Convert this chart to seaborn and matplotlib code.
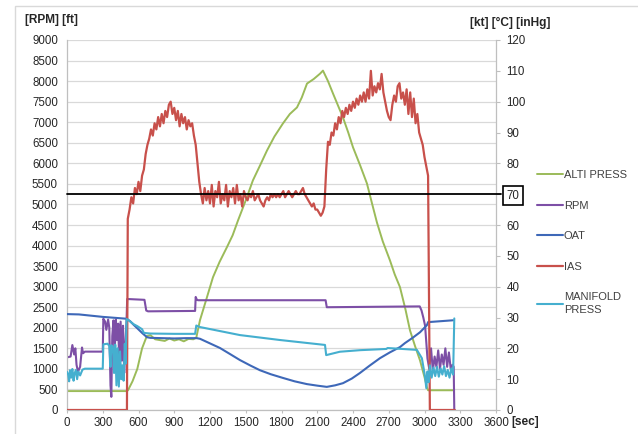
import matplotlib
matplotlib.use("Agg")
import matplotlib.pyplot as plt
import pandas as pd
import seaborn as sns
from matplotlib.patches import Rectangle

# ---------------- flight log data ----------------
# ALTI PRESS [ft] (left axis)
alti_t = [0, 500, 512, 550, 590, 630, 670, 700, 740, 780, 820, 860, 900, 940, 980,
          1020, 1060, 1085, 1116, 1170, 1225, 1280, 1342, 1390, 1435, 1500, 1560,
          1620, 1678, 1740, 1812, 1870, 1930, 1970, 2014, 2070, 2123, 2148, 2190,
          2232, 2275, 2316, 2360, 2400, 2460, 2517, 2560, 2601, 2650, 2710, 2750,
          2794, 2840, 2878, 2920, 2962, 3000, 3020, 3030, 3240]
alti_v = [460, 460, 480, 700, 1000, 1500, 1800, 1820, 1720, 1700, 1680, 1740, 1690,
          1720, 1670, 1730, 1720, 1760, 2185, 2700, 3230, 3600, 3960, 4250, 4610,
          5100, 5585, 5950, 6310, 6650, 6970, 7200, 7360, 7600, 7940, 8050, 8180,
          8255, 8000, 7700, 7400, 7115, 6750, 6390, 5950, 5510, 5020, 4560, 4100,
          3640, 3300, 2990, 2450, 1940, 1560, 1210, 800, 560, 480, 480]

# RPM (left axis)
rpm_t = [0, 30, 45, 60, 70, 80, 92, 110, 126, 135, 150, 300, 305, 320, 330, 345,
         355, 365, 372, 380, 390, 400, 410, 420, 430, 440, 450, 460, 470, 480, 490,
         500, 505, 650, 665, 680, 1075, 1080, 1090, 1100, 2170, 2180, 2960, 2975,
         2990, 3005, 3015, 3025, 3040, 3055, 3070, 3085, 3100, 3115, 3130, 3145,
         3160, 3175, 3190, 3205, 3220, 3235, 3245, 3250]
rpm_v = [1280, 1300, 1580, 1350, 1500, 1100, 930, 1050, 1520, 1380, 1420, 1420,
         2220, 2150, 1950, 2200, 2000, 600, 320, 1800, 2180, 1400, 2200, 1700, 2100,
         900, 2150, 1200, 2050, 900, 1600, 2200, 2700, 2680, 2420, 2400, 2410, 2750,
         2680, 2670, 2670, 2500, 2520, 2420, 2250, 2050, 1650, 1250, 1000, 1500, 950,
         1300, 1050, 1450, 1000, 1350, 1100, 1500, 1050, 1400, 1000, 1100, 1050, 0]

# OAT [degC] (right axis)
oat_t = [0, 100, 200, 300, 400, 500, 530, 560, 590, 630, 671, 700, 800, 900, 1000,
         1090, 1116, 1200, 1284, 1370, 1451, 1540, 1619, 1710, 1812, 1910, 2013,
         2100, 2180, 2250, 2316, 2390, 2458, 2540, 2626, 2710, 2794, 2836, 2900,
         2962, 3020, 3030, 3240]
oat_v = [31.1, 31.0, 30.6, 30.2, 29.9, 29.6, 28.8, 27.6, 26.5, 25.0, 23.6, 23.4,
         23.3, 23.2, 23.3, 23.3, 23.1, 21.6, 20.1, 18.1, 16.2, 14.4, 12.9, 11.6,
         10.4, 9.3, 8.4, 7.9, 7.5, 8.0, 8.7, 10.2, 12.0, 14.4, 16.8, 18.7, 20.4,
         21.7, 23.4, 25.2, 27.5, 28.5, 29.1]

# IAS [kt] (right axis): ground segments plus 15 s samples from 510 s to 3030 s
ias_ground_start_t = [0, 503]
ias_ground_end_t = [3045, 3255]
ias_sample_t = list(range(510, 3031, 15))
ias_sample_v = [
    62, 65, 69, 67, 72, 70, 74, 71, 76, 78, 83, 86,
    88, 91, 89, 93, 91, 95, 92, 96, 93, 97, 95, 99,
    100, 96, 98, 94, 97, 92, 96, 93, 95, 91, 94, 92,
    93, 89, 86, 80, 74, 70, 67, 72, 68, 71, 67, 73,
    66, 71, 69, 74, 67, 70, 68, 73, 66, 71, 69, 72,
    67, 73, 68, 70, 66, 71, 69, 68, 70, 69, 71, 68,
    69, 70, 68, 67, 66, 68, 69, 68, 70, 69, 70, 69,
    70, 69, 70, 71, 69, 70, 71, 70, 69, 70, 71, 70,
    70, 71, 72, 70, 69, 68, 67, 66, 67, 65, 65, 64,
    63, 64, 66, 78, 87, 86, 90, 89, 93, 91, 95, 93,
    97, 95, 98, 96, 99, 97, 100, 98, 101, 99, 102, 100,
    103, 100, 104, 101, 110, 102, 105, 103, 106, 104, 109, 103,
    100, 97, 95, 94, 99, 102, 100, 105, 106, 101, 103, 99,
    104, 96, 103, 95, 101, 93, 96, 90, 88, 86, 82, 79,
    76,
]
ias_t = ias_ground_start_t + ias_sample_t + ias_ground_end_t
ias_v = [0, 0] + ias_sample_v + [0, 0]

# MANIFOLD PRESS [inHg] (right axis)
man_t = [0, 10, 18, 25, 35, 45, 55, 65, 75, 85, 95, 110, 130, 150, 300, 305, 340,
         355, 365, 372, 385, 395, 405, 415, 425, 435, 445, 455, 465, 475, 485, 492,
         500, 510, 560, 590, 630, 645, 700, 900, 1075, 1085, 1116, 1451, 1787, 2165,
         2175, 2290, 2458, 2680, 2690, 2936, 2978, 3004, 3015, 3025, 3035, 3045,
         3060, 3075, 3090, 3105, 3120, 3135, 3150, 3165, 3180, 3195, 3210, 3225,
         3240, 3250]
man_v = [12.4, 11.5, 9.3, 12.9, 10.5, 13.3, 9.5, 12.0, 13.0, 10.0, 12.5, 11.2, 13.1,
         13.4, 13.4, 21.3, 21.5, 20.8, 14.0, 21.0, 20.5, 12.0, 21.2, 8.0, 20.0, 7.6,
         19.0, 10.0, 14.5, 9.5, 21.5, 15.0, 29.5, 29.3, 27.8, 27.2, 26.2, 25.0, 24.8,
         24.7, 24.7, 27.4, 26.9, 24.3, 22.7, 21.1, 17.8, 18.9, 19.4, 19.8, 20.1, 19.5,
         16.8, 11.0, 7.1, 12.5, 9.0, 14.5, 10.5, 13.8, 11.0, 14.0, 10.8, 13.5, 11.5,
         14.2, 11.0, 13.0, 10.5, 13.5, 11.5, 29.7]

# axis ticks
x_ticks = list(range(0, 3601, 300))
left_ticks = list(range(0, 9001, 500))
right_ticks = list(range(0, 121, 10))
ias_limit = 70

series_labels = ["ALTI PRESS", "RPM", "OAT", "IAS", "MANIFOLD\nPRESS"]
series_colors = ["#9BBB59", "#7D4FA6", "#3E68B8", "#C8504B", "#45AFCF"]

# ---------------- figure ----------------
sns.set_theme(style="white")
plt.rcParams["font.family"] = ["Liberation Sans", "DejaVu Sans"]

W, H = 638, 434
fig = plt.figure(figsize=(W / 100, H / 100), dpi=100)
fig.patch.set_facecolor("white")
fig.add_artist(Rectangle((15 / W, -0.05), 1.1, 1 - 6 / H + 0.05,
                         transform=fig.transFigure, fill=False,
                         ec="#D9D9D9", lw=1.0, clip_on=False))

ax = fig.add_axes([67 / W, 1 - 410 / H, (496 - 67) / W, (410 - 40) / H])
ax2 = ax.twinx()

handles = []
tables = [
    (ax, alti_t, alti_v, 1.4),
    (ax, rpm_t, rpm_v, 1.5),
    (ax2, oat_t, oat_v, 1.5),
    (ax2, ias_t, ias_v, 1.6),
    (ax2, man_t, man_v, 1.5),
]
for (target, t, v, lw), lab, col in zip(tables, series_labels, series_colors):
    df = pd.DataFrame({"t": t, "v": v})
    sns.lineplot(data=df, x="t", y="v", ax=target, color=col, lw=lw,
                 estimator=None, sort=False, legend=False)
    line = target.lines[-1]
    line.set_label(lab)
    handles.append(line)

ax2.axhline(ias_limit, xmin=0, xmax=1.012, color="black", lw=1.3,
            clip_on=False, zorder=6)

ax.set_xlim(0, 3600)
ax.set_ylim(0, 9000)
ax2.set_ylim(0, 120)
ax.set_xticks(x_ticks)
ax.set_xticklabels([str(v) for v in x_ticks])
ax.set_yticks(left_ticks)
ax.set_yticklabels([str(v) for v in left_ticks])
ax2.set_yticks(right_ticks)
ax2.set_yticklabels([str(v) for v in right_ticks])
ax.set_xlabel("")
ax.set_ylabel("")
ax2.set_ylabel("")

ax.grid(axis="y", color="#D9D9D9", lw=0.9)
ax.grid(axis="x", visible=False)
ax2.grid(False)

spine_col = "#BFBFBF"
for s in ["top", "right"]:
    ax.spines[s].set_visible(False)
for s in ["top", "left", "bottom"]:
    ax2.spines[s].set_visible(False)
ax.spines["left"].set_color(spine_col)
ax.spines["bottom"].set_color(spine_col)
ax2.spines["right"].set_color(spine_col)
for sp in [ax.spines["left"], ax.spines["bottom"], ax2.spines["right"]]:
    sp.set_linewidth(0.9)

tick_col = "#262626"
ax.tick_params(axis="y", left=False, length=0, pad=6.5, labelsize=8.3,
               labelcolor=tick_col)
ax.tick_params(axis="x", bottom=True, length=2.5, width=0.8, color=spine_col,
               direction="out", pad=2.5, labelsize=8.3, labelcolor=tick_col)
ax2.tick_params(axis="y", right=True, length=3, width=0.8, color=spine_col,
                direction="out", pad=4.5, labelsize=8.3, labelcolor=tick_col)

for lbl in ax2.get_yticklabels():
    if lbl.get_text() == str(ias_limit):
        lbl.set_bbox(dict(boxstyle="square,pad=0.28", fc="white", ec="black",
                          lw=1.2))

bold = dict(fontsize=8.6, fontweight="bold", color="#262626", va="center",
            ha="left")
fig.text(25 / W, 1 - 20 / H, "[RPM] [ft]", **bold)
fig.text(470 / W, 1 - 23 / H, "[kt] [°C] [inHg]", **bold)
fig.text(511 / W, 1 - 422 / H, "[sec]", **bold)

leg = fig.legend(handles=handles, labels=series_labels, loc="upper left",
                 bbox_to_anchor=(537 / W, 1 - 170 / H), frameon=False,
                 prop={"family": ["Liberation Sans Narrow", "Liberation Sans"],
                       "size": 8},
                 handlelength=2.3, handletextpad=0.1, labelspacing=1.85,
                 borderpad=0, borderaxespad=0)
for txt in leg.get_texts():
    txt.set_color("#404040")
    txt.set_linespacing(1.35)

fig.savefig("out.png", dpi=100)
